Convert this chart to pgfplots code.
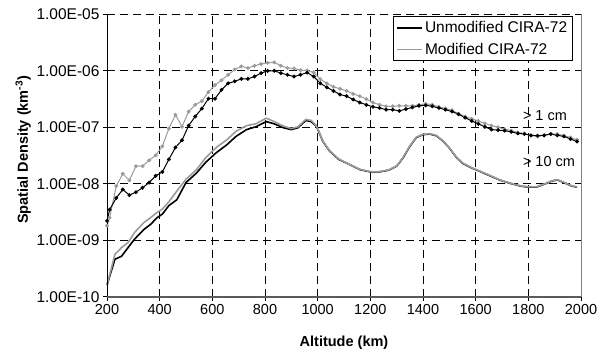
\documentclass[border=0pt]{standalone}
\usepackage{fontspec}
\setmainfont{Liberation Sans}
\usepackage{pgfplots}
\pgfplotsset{compat=1.18}
\definecolor{mgray}{RGB}{155,155,155}
\definecolor{framegray}{RGB}{128,128,128}

\begin{document}
\begin{tikzpicture}
\begin{axis}[
  scale only axis, width=474pt, height=282.4pt,
  xmin=200, xmax=2000, ymode=log, ymin=1e-10, ymax=1e-5,
  xtick={200,400,600,800,1000,1200,1400,1600,1800,2000},
  xticklabels={200,400,600,800,1000,1200,1400,1600,1800,2000},
  ytick={1e-10,1e-9,1e-8,1e-7,1e-6,1e-5},
  yticklabels={1.00E-10,1.00E-09,1.00E-08,1.00E-07,1.00E-06,1.00E-05},
  yminorticks=false,
  xtick pos=bottom, ytick pos=left, tick align=outside,
  major tick length=4pt,
  tick style={black, line width=0.8pt},
  axis line style={draw=none},
  grid=major,
  major grid style={black, line width=0.8pt, dash pattern=on 8pt off 5pt},
  xticklabel style={font=\fontsize{14.5}{16}\selectfont},
  yticklabel style={font=\fontsize{15.5}{17}\selectfont},
  xlabel={Altitude (km)},
  ylabel={Spatial Density (km\textsuperscript{-3})},
  xlabel style={font=\bfseries\fontsize{14.5}{16}\selectfont, at={(axis description cs:0.5,-0.163)}, anchor=center},
  ylabel style={font=\bfseries\fontsize{14.5}{16}\selectfont, at={(axis description cs:-0.177,0.52)}, anchor=center},
  legend style={at={(0.603,0.994)}, anchor=north west, draw=black, line width=0.8pt, fill=white,
    font=\fontsize{15.5}{17}\selectfont, row sep=5pt, inner sep=3pt},
  legend cell align=left,
  legend image code/.code={\draw[#1, line width=1.8pt] (0pt,0pt) -- (25pt,0pt);},
  clip=false,
]
\addlegendimage{black}
\addlegendentry{Unmodified CIRA-72}
\addlegendimage{mgray}
\addlegendentry{Modified CIRA-72}

% > 10 cm, unmodified
\addplot[black, line width=1.6pt, forget plot] table {
200 1.6e-10
230 4.6e-10
255 5.2e-10
280 7.4e-10
305 1.05e-9
340 1.55e-9
365 1.9e-9
390 2.5e-9
410 2.9e-9
435 4.1e-9
465 5.2e-9
500 1.05e-8
540 1.55e-8
575 2.4e-8
615 3.55e-8
655 4.9e-8
690 6.9e-8
730 9.1e-8
765 1.02e-7
805 1.26e-7
835 1.15e-7
870 9.8e-8
900 9.1e-8
925 9.8e-8
955 1.32e-7
975 1.26e-7
995 1.05e-7
1020 5.6e-8
1045 3.8e-8
1080 2.7e-8
1120 2.2e-8
1160 1.78e-8
1200 1.62e-8
1235 1.62e-8
1270 1.74e-8
1300 2.05e-8
1325 2.9e-8
1350 4.6e-8
1375 6.6e-8
1400 7.4e-8
1425 7.6e-8
1450 7.1e-8
1475 5.75e-8
1500 4.3e-8
1525 3.0e-8
1550 2.3e-8
1585 1.9e-8
1615 1.66e-8
1655 1.38e-8
1690 1.17e-8
1730 1.02e-8
1770 9.1e-9
1800 8.7e-9
1830 8.7e-9
1865 1.0e-8
1890 1.12e-8
1910 1.17e-8
1935 1.05e-8
1965 9.1e-9
1985 8.7e-9
};
% > 10 cm, modified
\addplot[mgray, line width=1.6pt, forget plot] table {
200 1.6e-10
230 5.6e-10
255 7.4e-10
280 9.1e-10
305 1.38e-9
340 2.05e-9
365 2.5e-9
390 3.1e-9
410 3.55e-9
435 4.8e-9
465 7.4e-9
500 1.2e-8
540 1.78e-8
575 2.9e-8
615 4.4e-8
655 6.0e-8
690 8.5e-8
730 1.07e-7
765 1.15e-7
805 1.45e-7
835 1.26e-7
870 1.05e-7
900 9.5e-8
925 1.02e-7
955 1.38e-7
975 1.32e-7
995 1.07e-7
1020 5.7e-8
1045 3.85e-8
1080 2.75e-8
1120 2.2e-8
1160 1.8e-8
1200 1.64e-8
1235 1.64e-8
1270 1.76e-8
1300 2.07e-8
1325 2.95e-8
1350 4.7e-8
1375 6.7e-8
1400 7.5e-8
1425 7.7e-8
1450 7.2e-8
1475 5.8e-8
1500 4.35e-8
1525 3.05e-8
1550 2.35e-8
1585 1.92e-8
1615 1.68e-8
1655 1.4e-8
1690 1.18e-8
1730 1.03e-8
1770 9.2e-9
1800 8.8e-9
1830 8.8e-9
1865 1.01e-8
1890 1.13e-8
1910 1.18e-8
1935 1.06e-8
1965 9.2e-9
1985 8.8e-9
};
% > 1 cm, modified
\addplot[mgray, line width=1pt, mark=*, mark size=1.4pt, mark options={fill=mgray, draw=mgray}, forget plot] table {
200 1.8e-9
210 2.5e-9
235 9.1e-9
260 1.5e-8
285 1.15e-8
310 2.05e-8
335 2.05e-8
360 2.6e-8
385 3.2e-8
410 4.6e-8
435 9.5e-8
460 1.66e-7
485 1.02e-7
510 1.9e-7
535 2.5e-7
560 2.9e-7
585 4.2e-7
610 5.6e-7
635 6.8e-7
660 8.5e-7
685 1.05e-6
710 1.2e-6
735 1.12e-6
760 1.23e-6
785 1.32e-6
810 1.38e-6
835 1.41e-6
860 1.23e-6
885 1.12e-6
910 1.10e-6
935 1.02e-6
960 1.02e-6
985 9.3e-7
1010 7.1e-7
1035 6.0e-7
1060 5.2e-7
1085 4.8e-7
1110 4.4e-7
1135 3.9e-7
1160 3.55e-7
1185 3.16e-7
1210 2.75e-7
1235 2.5e-7
1260 2.35e-7
1285 2.35e-7
1310 2.4e-7
1335 2.4e-7
1360 2.4e-7
1385 2.5e-7
1410 2.6e-7
1435 2.5e-7
1460 2.3e-7
1485 2.15e-7
1510 2.0e-7
1535 1.74e-7
1560 1.55e-7
1585 1.41e-7
1610 1.29e-7
1635 1.17e-7
1660 1.07e-7
1685 1.0e-7
1710 9.3e-8
1735 8.7e-8
1760 8.1e-8
1785 7.8e-8
1810 7.1e-8
1835 6.9e-8
1860 7.2e-8
1885 7.6e-8
1910 7.6e-8
1935 7.1e-8
1960 6.6e-8
1985 6.0e-8
};
% > 1 cm, unmodified
\addplot[black, line width=1pt, mark=*, mark size=1.4pt, mark options={fill=black}, forget plot] table {
200 2.2e-9
210 3.47e-9
235 5.6e-9
260 7.9e-9
285 6.3e-9
310 7.1e-9
335 8.5e-9
360 1.05e-8
385 1.38e-8
410 1.62e-8
435 2.7e-8
460 4.4e-8
485 5.9e-8
510 1.07e-7
535 1.55e-7
560 2.14e-7
585 3.2e-7
610 3.2e-7
635 4.6e-7
660 6.0e-7
685 6.5e-7
710 7.2e-7
735 7.2e-7
760 7.9e-7
785 9.1e-7
810 1.0e-6
835 1.0e-6
860 9.1e-7
885 8.5e-7
910 7.9e-7
935 8.5e-7
960 9.3e-7
985 7.9e-7
1010 6.0e-7
1035 5.1e-7
1060 4.4e-7
1085 3.8e-7
1110 3.55e-7
1135 3.1e-7
1160 2.75e-7
1185 2.5e-7
1210 2.3e-7
1235 2.2e-7
1260 2.05e-7
1285 2.05e-7
1310 1.95e-7
1335 2.1e-7
1360 2.25e-7
1385 2.4e-7
1410 2.45e-7
1435 2.35e-7
1460 2.2e-7
1485 2.05e-7
1510 1.9e-7
1535 1.7e-7
1560 1.48e-7
1585 1.29e-7
1610 1.15e-7
1635 1.02e-7
1660 9.1e-8
1685 8.9e-8
1710 8.7e-8
1735 8.3e-8
1760 7.8e-8
1785 7.6e-8
1810 7.2e-8
1835 7.1e-8
1860 7.2e-8
1885 7.6e-8
1910 7.2e-8
1935 6.9e-8
1960 6.2e-8
1985 5.6e-8
};

\node[anchor=west, font=\fontsize{14.5}{16}\selectfont, inner sep=0pt] at (axis cs:1779,1.58e-7) {> 1 cm};
\node[anchor=west, font=\fontsize{14.5}{16}\selectfont, inner sep=0pt] at (axis cs:1779,2.45e-8) {> 10 cm};

% frame
\draw[framegray, line width=0.8pt] (rel axis cs:1,0) -- (rel axis cs:1,1);
\draw[black, line width=0.8pt] (rel axis cs:0,0) -- (rel axis cs:0,1);
\draw[framegray!70!black, line width=1.8pt] (rel axis cs:0,0) -- (rel axis cs:1,0);
\end{axis}
\pgfresetboundingbox
\path ([shift={(-107pt,-57.3pt)}]current axis.south west) rectangle ([shift={(26pt,14.3pt)}]current axis.north east);
\end{tikzpicture}
\end{document}
